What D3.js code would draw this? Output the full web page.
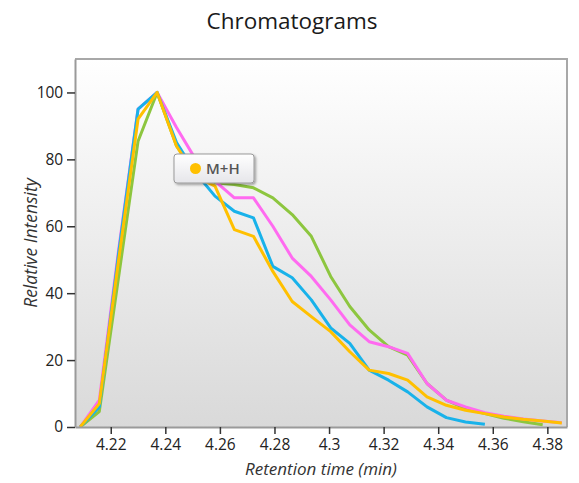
<!DOCTYPE html>
<html>
<head>
<meta charset="utf-8">
<script src="https://cdn.jsdelivr.net/npm/d3@7"></script>
<style>
  html, body { margin: 0; padding: 0; background: #ffffff; }
  svg { display: block; font-family: "Open Sans", "Noto Sans", sans-serif; }
</style>
</head>
<body>
<svg id="chart" width="579" height="483"></svg>
<script>
// Retention times (min) of the scans
const times = [4.2088, 4.2158, 4.2229, 4.2300, 4.2370, 4.2441, 4.2511, 4.2582, 4.2653, 4.2723,
               4.2794, 4.2865, 4.2935, 4.3006, 4.3076, 4.3147, 4.3218, 4.3288, 4.3359, 4.3430,
               4.3500, 4.3571, 4.3641, 4.3712, 4.3783, 4.3853];

// Relative intensities per trace
const greenValues  = [0, 4.6, 45, 85.4, 100, 84, 76, 73, 72.5, 71.5, 68.5, 63.5, 57, 45, 36, 29, 24, 21.5, 13, 8, 5.5, 4, 2.6, 1.6, 0.7];
const pinkValues   = [0, 8, 53, 95, 100, 89.5, 80, 73.5, 68.5, 68.5, 60, 50.5, 45, 38, 30.5, 25.5, 24, 22, 13, 8, 6, 4.3, 3.2, 2.4, 1.8, 1.3];
const blueValues   = [0, 6, 52, 95, 100, 85, 76, 69, 64.5, 62.5, 48, 44.6, 38, 29.6, 25, 17, 14, 10.5, 6, 2.8, 1.5, 0.8];
const orangeValues = [0, 7, 50, 92, 100, 84, 75, 72, 59, 57, 46.5, 37.5, 33, 28.5, 22.5, 17, 16, 14, 9, 6.5, 5, 4, 3, 2.3, 1.8, 1.2];

const seriesNames  = ["green", "pink", "blue", "M+H"];
const seriesColors = ["#8dc63f", "#ff6af0", "#18b2ea", "#ffc000"];
const seriesValues = [greenValues, pinkValues, blueValues, orangeValues];

const xTicks = [4.22, 4.24, 4.26, 4.28, 4.30, 4.32, 4.34, 4.36, 4.38];
const yTicks = [0, 20, 40, 60, 80, 100];

const title  = "Chromatograms";
const xTitle = "Retention time (min)";
const yTitle = "Relative Intensity";
const tooltipLabel = "M+H";

const svg = d3.select("#chart");
const L = 75, R = 567, T = 59, B = 427;

const x = d3.scaleLinear().domain([4.2069, 4.3872]).range([L, R]);
const y = d3.scaleLinear().domain([0, 110]).range([B, T]);

const defs = svg.append("defs");
const bg = defs.append("linearGradient").attr("id", "bg").attr("x1", 0).attr("y1", 0).attr("x2", 0).attr("y2", 1);
bg.append("stop").attr("offset", "0%").attr("stop-color", "#ffffff");
bg.append("stop").attr("offset", "100%").attr("stop-color", "#d9d9d9");

const tipg = defs.append("linearGradient").attr("id", "tipg").attr("x1", 0).attr("y1", 0).attr("x2", 0).attr("y2", 1);
tipg.append("stop").attr("offset", "0%").attr("stop-color", "#ffffff");
tipg.append("stop").attr("offset", "100%").attr("stop-color", "#e6e6ea");

defs.append("clipPath").attr("id", "clip").append("rect")
  .attr("x", L).attr("y", T).attr("width", R - L).attr("height", B - T);

const shadow = defs.append("filter").attr("id", "shadow").attr("x", "-20%").attr("y", "-30%").attr("width", "150%").attr("height", "180%");
shadow.append("feDropShadow").attr("dx", 1.5).attr("dy", 1.5).attr("stdDeviation", 1.2).attr("flood-color", "#000").attr("flood-opacity", 0.35);

// plot background
svg.append("rect").attr("x", L).attr("y", T).attr("width", R - L).attr("height", B - T)
  .attr("fill", "url(#bg)");

// title
svg.append("text").attr("x", 292).attr("y", 29).attr("text-anchor", "middle")
  .attr("font-size", 22.5).attr("fill", "#1a1a1a").text(title);

// frame: top and right
svg.append("path")
  .attr("d", `M${L},${T}H${R}V${B}`)
  .attr("fill", "none").attr("stroke", "#a8a8a8").attr("stroke-width", 2);

// lines
const line = d3.line()
  .x((d, i) => x(times[i]))
  .y(d => y(d));

const lines = svg.append("g").attr("clip-path", "url(#clip)");
seriesValues.forEach((vals, si) => {
  lines.append("path")
    .datum(vals)
    .attr("d", line)
    .attr("fill", "none")
    .attr("stroke", seriesColors[si])
    .attr("stroke-width", 3)
    .attr("stroke-linejoin", "round");
});

// axes
const xAxis = svg.append("g").attr("transform", `translate(0,${B})`)
  .call(d3.axisBottom(x).tickValues(xTicks).tickSize(7).tickSizeOuter(0).tickPadding(4)
        .tickFormat(d => d3.format("")(+d.toFixed(2))));
const yAxis = svg.append("g").attr("transform", `translate(${L},0)`)
  .call(d3.axisLeft(y).tickValues(yTicks).tickSize(8).tickSizeOuter(0));

[xAxis, yAxis].forEach(a => {
  a.select(".domain").attr("stroke", "#9a9a9a").attr("stroke-width", 2);
  a.selectAll(".tick line").attr("stroke", "#333").attr("stroke-width", 1.5);
  a.selectAll(".tick text").attr("font-size", 15.5).attr("fill", "#222")
    .attr("font-family", "'Open Sans', 'Noto Sans', sans-serif");
});
xAxis.selectAll(".tick text").attr("dy", "0.8em");
yAxis.selectAll(".tick text").attr("dx", "-0.05em");

// axis titles
svg.append("text").attr("x", 321).attr("y", 475).attr("text-anchor", "middle")
  .attr("font-size", 17).attr("font-style", "italic").attr("fill", "#333").text(xTitle);
svg.append("text").attr("transform", "translate(37,243) rotate(-90)").attr("text-anchor", "middle")
  .attr("font-size", 17.5).attr("font-style", "italic").attr("fill", "#333").text(yTitle);

// tooltip / legend badge
const tip = svg.append("g");
tip.append("rect").attr("x", 174).attr("y", 154).attr("width", 80).attr("height", 29)
  .attr("rx", 3).attr("fill", "url(#tipg)").attr("stroke", "#9a9a9a").attr("stroke-width", 1)
  .attr("filter", "url(#shadow)");
tip.append("circle").attr("cx", 195.5).attr("cy", 168.5).attr("r", 5.5).attr("fill", seriesColors[3]);
tip.append("text").attr("x", 206).attr("y", 174).attr("font-size", 15).attr("font-weight", 600)
  .attr("fill", "#555").text(tooltipLabel);
</script>
</body>
</html>
